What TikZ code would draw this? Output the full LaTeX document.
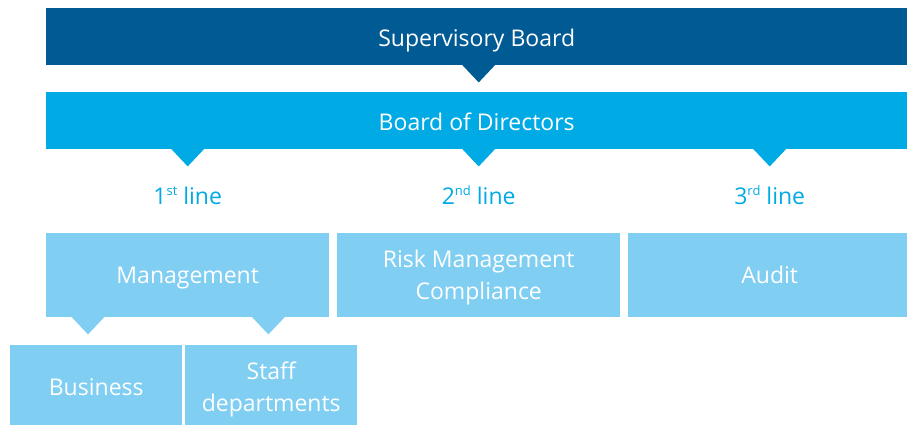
\documentclass[tikz,border=0pt]{standalone}
\usepackage{fontspec}
\setmainfont{Open Sans}
\usepackage{tikz}
\definecolor{darkblue}{RGB}{0,90,148}
\definecolor{midblue}{RGB}{0,170,228}
\definecolor{paleblue}{RGB}{128,206,242}
\newcommand{\notch}[2]{\fill[#1] (#2) ++(-17,-1) -- ++(34,0) -- ++(-17,18) -- cycle;}
\newcommand{\sups}[1]{\raisebox{9pt}{\fontsize{13}{13}\selectfont #1}}

\begin{document}
\begin{tikzpicture}[x=1pt, y=-1pt,
    every node/.style={font=\fontsize{23}{32}\selectfont},
    board/.style={text=white, minimum width=861pt, minimum height=57pt, inner sep=0pt, anchor=north west,
        text height=22pt, text depth=2pt},
    unit/.style={fill=paleblue, text=white, minimum height=84pt, inner sep=0pt, anchor=north west, align=center,
        text height=20pt, text depth=4pt},
    twolines/.style={text height=52pt},
    linelabel/.style={text=midblue, anchor=base}]
    \clip (0,0) rectangle (907,425);
    % boards
    \node[board, fill=darkblue] (sb) at (46,8) {Supervisory Board};
    \node[board, fill=midblue] (bod) at (46,92) {Board of Directors};
    % three lines
    \node[unit, minimum width=283pt] (mgmt) at (46,233) {Management};
    \node[unit, twolines, minimum width=283pt] (risk) at (337,233) {Risk Management\\Compliance};
    \node[unit, minimum width=283pt] (audit) at (628,233) {Audit};
    \node[unit, minimum width=172pt] (bus) at (10,345) {Business};
    \node[unit, twolines, minimum width=172pt] (staff) at (185,345) {Staff\\departments};
    \node[linelabel] (l1) at (mgmt.north |- 0,204) {1\sups{st} line};
    \node[linelabel] (l2) at (risk.north |- 0,204) {2\sups{nd} line};
    \node[linelabel] (l3) at (audit.north |- 0,204) {3\sups{rd} line};
    % notches
    \notch{darkblue}{risk.north |- sb.south}
    \notch{midblue}{mgmt.north |- bod.south}
    \notch{midblue}{risk.north |- bod.south}
    \notch{midblue}{audit.north |- bod.south}
    \notch{paleblue}{[xshift=42pt]mgmt.south west}
    \notch{paleblue}{[xshift=-61pt]mgmt.south east}
\end{tikzpicture}
\end{document}
